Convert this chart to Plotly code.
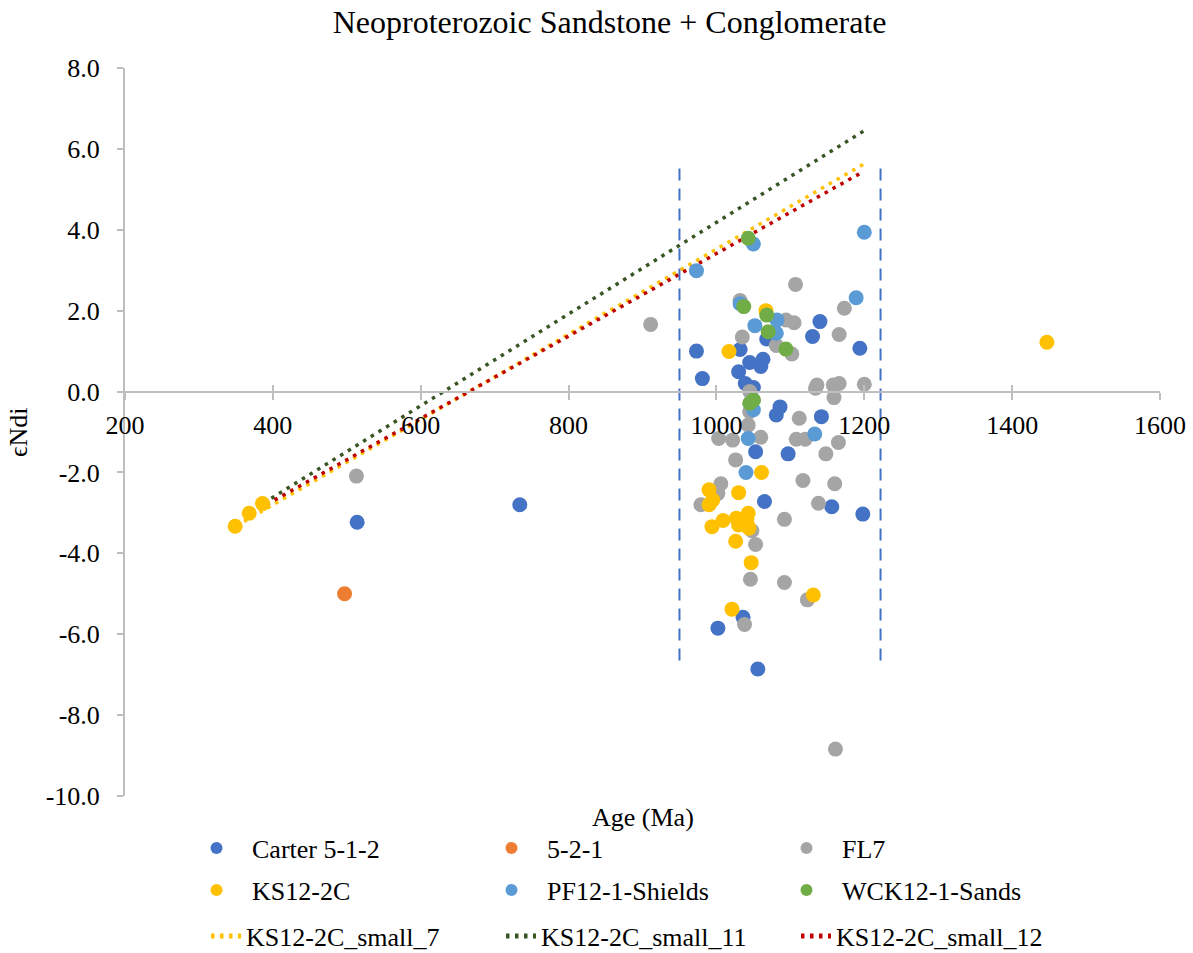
import plotly.graph_objects as go

# ---------------- data ----------------
carter_age = [514, 734, 973, 981, 1002, 1030, 1032, 1036, 1039, 1045, 1050, 1053, 1056, 1060,
              1063, 1065, 1068, 1081, 1086, 1097, 1130, 1140, 1142, 1156, 1194, 1198]
carter_end = [-3.23, -2.80, 1.00, 0.32, -5.85, 0.49, 1.04, -5.58, 0.20, 0.72, 0.10, -1.49, -6.86, 0.62,
              0.80, -2.72, 1.30, -0.58, -0.38, -1.54, 1.36, 1.73, -0.62, -2.85, 1.07, -3.03]

s521_age = [497]
s521_end = [-5.00]

fl7_age = [513, 911, 1107, 1032, 1094, 1105, 1035, 1081, 1102, 1173, 1166, 1136, 1134, 1158, 1166,
           1159, 1200, 1050, 1045, 1112, 1003, 1022, 1060, 1108, 1120, 1165, 1148, 1026, 1117, 1160,
           1006, 1002, 979, 1138, 1092, 1048, 1053, 1046, 1092, 1123, 1038, 1161, 1043, 1045]
fl7_end = [-2.09, 1.66, 2.65, 2.25, 1.77, 1.70, 1.35, 1.14, 0.93, 2.06, 1.41, 0.16, 0.08, 0.16, 0.20,
           -0.15, 0.18, -0.21, 0.00, -0.66, -1.16, -1.20, -1.13, -1.18, -1.18, -1.26, -1.54, -1.69, -2.20, -2.28,
           -2.28, -2.52, -2.80, -2.76, -3.16, -3.44, -3.78, -4.64, -4.72, -5.15, -5.76, -8.84, -0.83, -0.50]

ks_age = [349, 368, 386, 1447, 1017, 1067, 1061, 990, 1030, 995, 990, 1009, 994, 1027, 1043,
          1041, 1030, 1043, 1026, 1047, 1131, 1021, 1044]
ks_end = [-3.33, -3.01, -2.77, 1.22, 0.99, 2.00, -2.00, -2.43, -2.50, -2.68, -2.80, -3.19, -3.34, -3.13, -3.01,
          -3.16, -3.30, -3.34, -3.70, -4.23, -5.03, -5.38, -3.38]

pf_age = [973, 1050, 1200, 1189, 1032, 1052, 1082, 1081, 1050, 1043, 1040, 1133]
pf_end = [2.99, 3.65, 3.94, 2.32, 2.17, 1.63, 1.77, 1.44, -0.45, -1.16, -2.00, -1.05]

wck_age = [1043, 1037, 1068, 1070, 1094, 1050, 1045]
wck_end = [3.79, 2.10, 1.89, 1.48, 1.05, -0.21, -0.29]

small7_age = [361, 1200]
small7_end = [-3.21, 5.63]
small11_age = [398, 1200]
small11_end = [-2.64, 6.45]
small12_age = [381, 1195]
small12_end = [-2.90, 5.40]

window_ages = [950, 1222]
window_end = [-6.65, 5.55]

y_ticks = [-10, -8, -6, -4, -2, 0, 2, 4, 6, 8]
y_tick_text = ["-10.0", "-8.0", "-6.0", "-4.0", "-2.0", "0.0", "2.0", "4.0", "6.0", "8.0"]
x_ticks = [200, 400, 600, 800, 1000, 1200, 1400, 1600]

# ---------------- figure ----------------
FONT = "Liberation Serif"
fig = go.Figure()

# dashed window lines (not in legend)
for a in window_ages:
    fig.add_trace(go.Scatter(x=[a, a], y=window_end, mode="lines", showlegend=False,
                             line=dict(color="#4472C4", width=2, dash="12px,8px"),
                             hoverinfo="skip", xaxis="x2"))

line_series = [
    ("KS12-2C_small_7", small7_age, small7_end, "#FFC000", "legend3"),
    ("KS12-2C_small_11", small11_age, small11_end, "#375623", "legend3"),
    ("KS12-2C_small_12", small12_age, small12_end, "#C00000", "legend3"),
]
for name, xs, ys, col, lg in line_series:
    fig.add_trace(go.Scatter(x=xs, y=ys, mode="lines", name=name, legend=lg,
                             line=dict(color=col, width=3.5, dash="3.5px,5.5px")))

pt_series = [
    ("Carter 5-1-2", carter_age, carter_end, "#4472C4", "legend"),
    ("5-2-1", s521_age, s521_end, "#ED7D31", "legend"),
    ("FL7", fl7_age, fl7_end, "#A5A5A5", "legend"),
    ("KS12-2C", ks_age, ks_end, "#FFC000", "legend2"),
    ("PF12-1-Shields", pf_age, pf_end, "#5B9BD5", "legend2"),
    ("WCK12-1-Sands", wck_age, wck_end, "#70AD47", "legend2"),
]
for name, xs, ys, col, lg in pt_series:
    fig.add_trace(go.Scatter(x=xs, y=ys, mode="markers", name=name, legend=lg,
                             marker=dict(color=col, size=15, line=dict(width=0))))

y0_frac = 10 / 18


def leg(xpx, ypx, itemwidth, entrywidth):
    return dict(orientation="h", x=(xpx - 125) / 1035, xanchor="left",
                y=(796 - ypx) / 728, yanchor="middle",
                entrywidth=entrywidth, entrywidthmode="pixels", itemwidth=itemwidth,
                font=dict(size=26, family=FONT, color="black"), itemsizing="constant",
                traceorder="normal", bgcolor="rgba(0,0,0,0)")


fig.update_layout(
    width=1193, height=953,
    margin=dict(l=125, r=33, t=68, b=157, autoexpand=False),
    paper_bgcolor="white", plot_bgcolor="white",
    font=dict(family=FONT, size=25, color="black"),
    title=dict(text="Neoproterozoic Sandstone + Conglomerate", x=0.511, xanchor="center",
               y=1 - 22 / 953, yanchor="middle", font=dict(size=32, family=FONT, color="black")),
    xaxis=dict(range=[200, 1600], tickvals=x_ticks, showgrid=False, zeroline=False,
               showline=True, linecolor="#BFBFBF", linewidth=2,
               anchor="free", position=y0_frac,
               ticks="outside", ticklen=7, tickcolor="#BFBFBF", tickwidth=2,
               ticklabelstandoff=3, tickfont=dict(size=26, family=FONT, color="black")),
    xaxis2=dict(matches="x", overlaying="x", anchor="free", position=y0_frac,
                showline=False, showgrid=False, zeroline=False, showticklabels=False,
                tickvals=x_ticks, ticks="inside", ticklen=7, tickcolor="#BFBFBF", tickwidth=2),
    yaxis=dict(range=[-10, 8], tickvals=y_ticks, ticktext=y_tick_text, showgrid=False,
               zeroline=False, showline=True, linecolor="#BFBFBF", linewidth=2,
               ticks="outside", ticklen=6, tickcolor="#BFBFBF", tickwidth=2,
               ticklabelstandoff=12, tickfont=dict(size=26, family=FONT, color="black")),
    legend=leg(181, 848, 61, 219),
    legend2=leg(181, 890, 61, 219),
    legend3=leg(206, 936, 30, 250),
    annotations=[
        dict(text="Age (Ma)", xref="paper", yref="paper", x=0.5, y=(796 - 818) / 728,
             xanchor="center", yanchor="middle", showarrow=False,
             font=dict(size=26, family=FONT, color="black")),
        dict(text="ϵNdi", xref="paper", yref="paper", x=(18 - 125) / 1035, y=0.5,
             xanchor="center", yanchor="middle", textangle=-90, showarrow=False,
             font=dict(size=26, family=FONT, color="black")),
    ],
)

fig.write_html("out.html")
